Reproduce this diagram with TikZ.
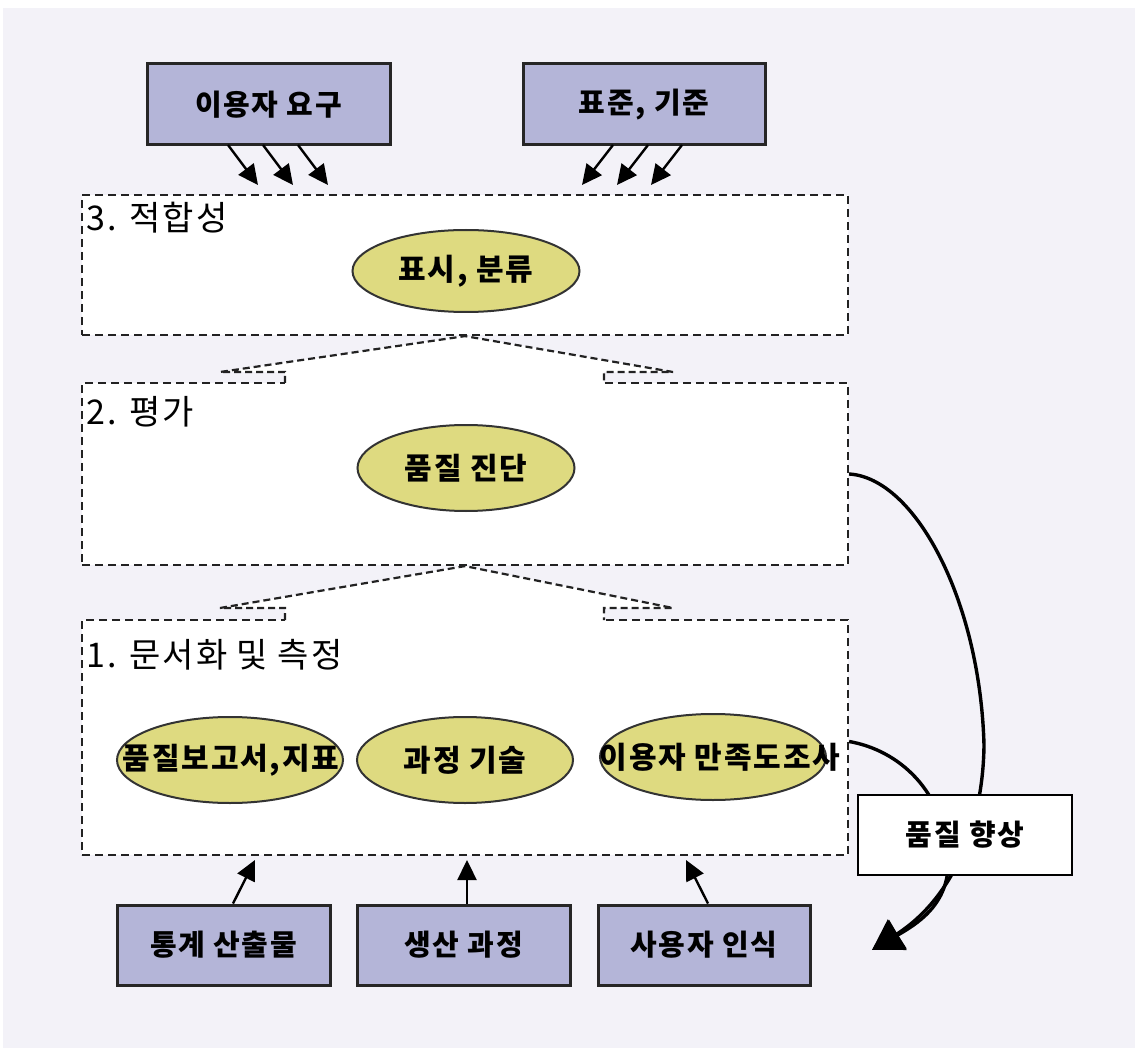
\documentclass[tikz,border=0pt]{standalone}
\usepackage{fontspec}
\setmainfont[LetterSpace=6]{Noto Sans CJK KR}
\usetikzlibrary{shapes.geometric,arrows.meta}
\definecolor{bgc}{HTML}{F3F2F8}
\definecolor{boxc}{HTML}{B4B5D8}
\definecolor{ellc}{HTML}{DEDA80}
\definecolor{dashc}{HTML}{222222}
\begin{document}
\begin{tikzpicture}[x=1pt,y=-1pt,
  srcbox/.style={draw=black!85, line width=3pt, fill=boxc, minimum height=81pt, inner sep=0pt,
    font=\bfseries\fontsize{29}{32}\selectfont},
  stagebox/.style={draw=dashc, line width=2.2pt, dash pattern=on 8pt off 5pt, fill=white,
    minimum width=766pt, inner sep=0pt},
  conn/.style={draw=dashc, line width=2.2pt, dash pattern=on 7pt off 4pt},
  titletxt/.style={anchor=west, inner sep=0pt, font=\fontsize{34}{38}\selectfont},
  oval/.style={ellipse, draw=black!80, line width=2pt, fill=ellc, inner sep=0pt,
    minimum height=86pt},
  ovaltxt/.style={inner sep=0pt, font=\bfseries\fontsize{30}{33}\selectfont},
  inarr/.style={line width=2.4pt, -{Triangle[length=20pt,width=19pt]}},
  loop/.style={line width=3.4pt, -{Triangle[length=30pt,width=34pt]}}
]
\useasboundingbox (0,0) rectangle (1135,1048);
\fill[white] (0,0) rectangle (1135,1048);
\fill[bgc] (3,8) rectangle (1135,1048);

% source boxes on top
\node[srcbox, minimum width=243pt] (user) at (268.5,104.5) {이용자 요구};
\node[srcbox, minimum width=242pt] (std) at (644,104.5) {표준, 기준};

% stage boxes
\node[stagebox, minimum height=140pt] (b3) at (465,265) {};
\node[stagebox, minimum height=182pt] (b2) at (465,474) {};
\node[stagebox, minimum height=235pt] (b1) at (465,737.5) {};

% connectors between stages (3 -> 2)
\fill[white] (285,386) -- (285,372) -- (220,372) -- (b3.south) -- (673,372) -- (604,372) -- (604,386) -- cycle;
\draw[conn] (285,383) -- (285,372) -- (220,372) -- (b3.south) -- (673,372) -- (604,372) -- (604,383);
% (2 -> 1)
\fill[white] (285,623) -- (285,608) -- (220,608) -- (b2.south) -- (673,608) -- (604,608) -- (604,623) -- cycle;
\draw[conn] (285,620) -- (285,608) -- (220,608) -- (b2.south) -- (673,608) -- (604,608) -- (604,620);

% titles
\node[titletxt] (t3) at (86,218) {3. 적합성};
\node[titletxt] (t2) at (86,412) {2. 평가};
\node[titletxt] (t1) at (86,655) {1. 문서화 및 측정};

% ellipses
\node[oval, minimum width=227pt, minimum height=82pt] (e3) at (466,271) {};
\node[ovaltxt] (e3t) at (e3) {표시, 분류};
\node[oval, minimum width=217pt] (e2) at (466,468) {};
\node[ovaltxt] (e2t) at (e2) {품질 진단};
\node[oval, minimum width=226pt] (e1a) at (230,760) {};
\node[ovaltxt] (e1at) at (231,760) {품질보고서,지표};
\node[oval, minimum width=216pt] (e1b) at (465,760) {};
\node[ovaltxt] (e1bt) at (e1b) {과정 기술};
\node[oval, minimum width=226pt] (e1c) at (713,757) {};
\node[ovaltxt] (e1ct) at (720,757) {이용자 만족도조사};

% bottom source boxes
\node[srcbox, minimum width=213pt, minimum height=80pt] (out) at (223.5,945) {통계 산출물};
\node[srcbox, minimum width=213pt, minimum height=80pt] (proc) at (463.5,945) {생산 과정};
\node[srcbox, minimum width=212pt, minimum height=80pt] (perc) at (704,945) {사용자 인식};

% arrows from top boxes
\foreach \x in {228,263,298} {
  \draw[inarr] (\x,145) -- ++(30,40);
}
\foreach \x in {613,648,682} {
  \draw[inarr] (\x,145) -- ++(-31,40);
}

% arrows from bottom boxes
\coordinate (a1) at (255,860);
\coordinate (a2) at (467,860);
\coordinate (a3) at (686,860);
\draw[inarr] (out.north -| 233,0) -- (a1);
\draw[inarr] (proc.north -| 467,0) -- (a2);
\draw[inarr] (perc.north -| 708,0) -- (a3);

% quality improvement loops
\coordinate (tip) at (872,950);
\draw[loop] (b2.east) .. controls (915,478) and (980,600) .. (984,745)
  .. controls (983,830) and (950,900) .. (tip);
\draw[loop] ([yshift=-4pt]b1.east) .. controls (898,750) and (945,790) .. (948,860)
  .. controls (950,905) and (915,925) .. (tip);

\node[draw=black, line width=2pt, fill=white, minimum width=214pt, minimum height=80pt,
  inner sep=0pt, font=\bfseries\fontsize{29}{32}\selectfont] (qi) at (965,835) {품질 향상};
\end{tikzpicture}
\end{document}
